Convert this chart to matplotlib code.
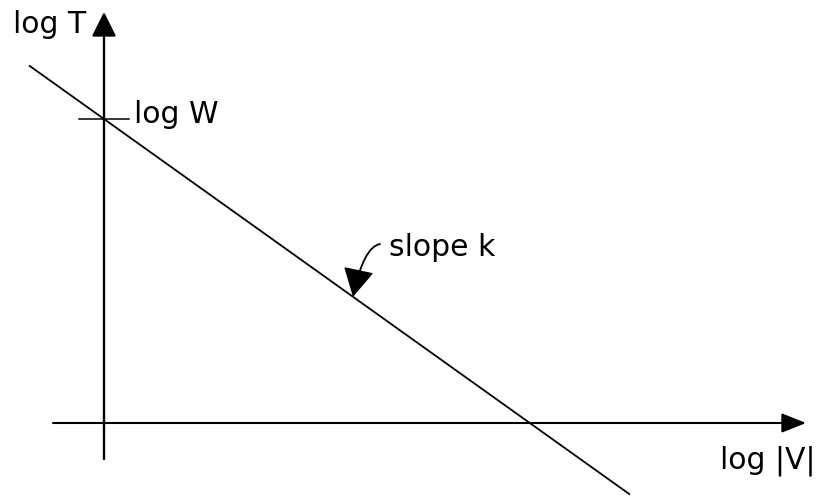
import matplotlib
matplotlib.use("Agg")
import matplotlib.pyplot as plt
import numpy as np

# Log-log relation: log T = log W + k * log|V|
log_w = 3.04          # intercept on the log T axis
slope_k = -0.714      # slope of the line
line_x = [-0.75, 5.26]  # extent of the drawn line along log|V|

# Axis extents (log|V| horizontal, log T vertical)
x_axis = [-0.51, 7.02]
y_axis = [-0.36, 4.11]

labels = {"y": "log T", "x": "log |V|", "intercept": "log W", "slope": "slope k"}

fig = plt.figure(figsize=(8.17, 4.96), dpi=100)
ax = fig.add_axes([0, 0, 1, 1])
ax.set_xlim(-1.04, 7.13)
ax.set_ylim(-0.73, 4.23)
ax.axis("off")

font = dict(family="DejaVu Sans", fontsize=21.5, color="black")

# Axes with arrowheads
ax.annotate("", xy=(0, y_axis[1]), xytext=(0, y_axis[0]),
            arrowprops=dict(arrowstyle="-|>,head_length=1.0,head_width=0.5",
                            mutation_scale=15, lw=1.7, color="black",
                            shrinkA=0, shrinkB=0))
ax.annotate("", xy=(x_axis[1], 0), xytext=(x_axis[0], 0),
            arrowprops=dict(arrowstyle="-|>,head_length=1.0,head_width=0.4",
                            mutation_scale=15, lw=1.5, color="black",
                            shrinkA=0, shrinkB=0))

# The straight line
xs = np.array(line_x)
ax.plot(xs, log_w + slope_k * xs, color="black", lw=1.3, solid_capstyle="butt")

# Intercept tick mark and label
ax.plot([-0.25, 0.25], [log_w, log_w], color="black", lw=1.1)
ax.text(0.30, 3.00, labels["intercept"], ha="left", va="baseline", **font)

# Axis labels
ax.text(-0.91, 3.90, labels["y"], ha="left", va="baseline", **font)
ax.text(6.16, -0.46, labels["x"], ha="left", va="baseline", **font)

# Slope label with curved pointer onto the line
tip_x = 2.49
ax.text(2.85, 1.67, labels["slope"], ha="left", va="baseline", **font)
ax.annotate("", xy=(tip_x, log_w + slope_k * tip_x), xytext=(2.76, 1.79),
            arrowprops=dict(arrowstyle="-|>,head_length=1.1,head_width=0.6",
                            mutation_scale=16, lw=1.3, color="black",
                            connectionstyle="angle3,angleA=10,angleB=78",
                            shrinkA=0, shrinkB=0))

fig.savefig("out.png", dpi=100)
